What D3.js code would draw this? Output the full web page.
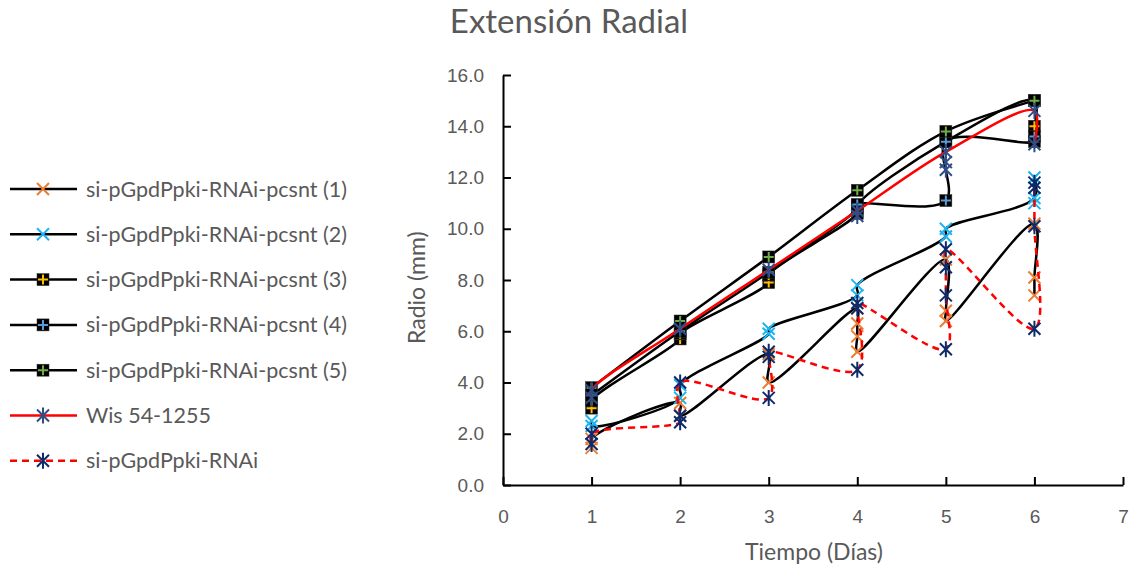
<!DOCTYPE html>
<html lang="es">
<head>
<meta charset="UTF-8">
<title>Extensión Radial</title>
<script src="https://d3js.org/d3.v7.min.js"></script>
<style>
  body { margin: 0; background: #fff; }
  svg { font-family: Lato, "Open Sans", sans-serif; }
  .tick text { fill: #595959; font-size: 19px; }
  .axis path, .axis line { stroke: #000; stroke-width: 2px; }
  .legend-label { fill: #595959; font-size: 21.5px; }
</style>
</head>
<body>
<div id="chart"></div>
<script>
// replicate readings per day, in the order the original series joins them
const pcsnt1 = [[1,1.45],[1,1.8],[2,3.2],[2,2.7],[3,5.1],[3,4.0],[4,6.9],[4,6.3],[4,5.8],[4,5.2],[5,8.8],[5,6.8],[5,6.4],[6,10.2],[6,8.1],[6,7.4]];
const pcsnt2 = [[1,2.5],[1,2.3],[2,3.4],[2,3.9],[3,5.9],[3,6.1],[4,7.4],[4,7.8],[5,9.7],[5,10.0],[6,11.2],[6,12.0],[6,11.0]];
const pcsnt3 = [[1,3.0],[1,3.3],[2,5.7],[2,5.9],[3,7.9],[3,8.2],[4,10.6],[4,10.9],[5,13.4],[6,15.0],[6,14.0]];
const pcsnt4 = [[1,3.5],[2,6.0],[3,8.3],[4,10.8],[4,10.95],[5,11.1],[5,13.4],[6,13.4],[6,13.6]];
const pcsnt5 = [[1,3.8],[2,6.4],[3,8.9],[4,11.5],[5,13.8],[6,15.0]];
const wis = [[1,3.4],[1,3.7],[2,6.1],[3,8.4],[4,10.7],[5,13.0],[6,14.6],[6,13.3]];
const wisOther = [[4,10.5],[5,12.3],[5,12.6]];
const rnai = [[1,1.6],[1,2.0],[2,2.45],[2,2.7],[2,4.0],[3,3.4],[3,5.0],[3,5.2],[4,4.5],[4,6.9],[4,7.1],[5,5.3],[5,7.4],[5,8.5],[5,9.2],[6,6.1],[6,10.1],[6,11.6],[6,11.8]];

const seriesNames = ["si-pGpdPpki-RNAi-pcsnt (1)", "si-pGpdPpki-RNAi-pcsnt (2)", "si-pGpdPpki-RNAi-pcsnt (3)",
  "si-pGpdPpki-RNAi-pcsnt (4)", "si-pGpdPpki-RNAi-pcsnt (5)", "Wis 54-1255", "si-pGpdPpki-RNAi"];
const seriesData = [pcsnt1, pcsnt2, pcsnt3, pcsnt4, pcsnt5, wis, rnai];
const extraPoints = [[], [], [], [], [], wisOther, []];
const lineColors = ["#000", "#000", "#000", "#000", "#000", "#ff0000", "#ff0000"];
const dashes = [null, null, null, null, null, null, "7,5"];
const markerTypes = ["x", "x", "plus", "plus", "plus", "star", "star"];
const markerColors = ["#ed7d31", "#1eb4f0", "#ffc000", "#5b9bd5", "#70ad47", "#2f4d86", "#0d2b6b"];

const xTicks = [0, 1, 2, 3, 4, 5, 6, 7];
const yTicks = [0, 2, 4, 6, 8, 10, 12, 14, 16];

const W = 1133, H = 571;
const svg = d3.select("#chart").append("svg").attr("width", W).attr("height", H);

const x = d3.scaleLinear().domain([0, 7]).range([503, 1123]);
const y = d3.scaleLinear().domain([0, 16]).range([485, 75]);

// title
svg.append("text").attr("x", 569).attr("y", 33).attr("text-anchor", "middle")
  .attr("fill", "#595959").style("font-size", "33px").text("Extensión Radial");

// axes
svg.append("g").attr("class", "axis").attr("transform", `translate(0,${y(0)})`)
  .call(d3.axisBottom(x).tickValues(xTicks).tickFormat(d3.format("d")).tickSizeInner(-8).tickSizeOuter(0).tickPadding(25));
svg.append("g").attr("class", "axis").attr("transform", `translate(${x(0)},0)`)
  .call(d3.axisLeft(y).tickValues(yTicks).tickFormat(d3.format(".1f")).tickSizeInner(-8).tickSizeOuter(0).tickPadding(19));
svg.selectAll(".axis .domain").attr("stroke-width", 2.5);

svg.append("text").attr("transform", `translate(425,${y(7.7)}) rotate(-90)`)
  .attr("text-anchor", "middle").attr("fill", "#595959").style("font-size", "23px").text("Radio (mm)");
svg.append("text").attr("x", 814).attr("y", 560)
  .attr("text-anchor", "middle").attr("fill", "#595959").style("font-size", "23px").text("Tiempo (Días)");

function drawMarker(g, type, color, cx, cy) {
  const m = g.append("g").attr("transform", `translate(${cx},${cy})`);
  if (type === "x") {
    const s = 6;
    m.append("path").attr("d", `M${-s},${-s}L${s},${s}M${-s},${s}L${s},${-s}`)
      .attr("stroke", color).attr("stroke-width", 2).attr("fill", "none");
  } else if (type === "plus") {
    m.append("rect").attr("x", -6).attr("y", -6).attr("width", 12).attr("height", 12)
      .attr("fill", "#000").attr("stroke", "#333").attr("stroke-width", 0.5);
    m.append("path").attr("d", "M-5,0L5,0M0,-5L0,5").attr("stroke", color).attr("stroke-width", 2);
  } else {
    const s = 6;
    m.append("path").attr("d", `M${-s},${-s}L${s},${s}M${-s},${s}L${s},${-s}M0,-8L0,8`)
      .attr("stroke", color).attr("stroke-width", 2).attr("fill", "none");
  }
}

const line = d3.line().x(d => x(d[0])).y(d => y(d[1])).curve(d3.curveCatmullRom.alpha(0.5));

seriesData.forEach((data, i) => {
  const g = svg.append("g");
  g.append("path").datum(data).attr("d", line).attr("fill", "none")
    .attr("stroke", lineColors[i]).attr("stroke-width", 2.5)
    .attr("stroke-dasharray", dashes[i]);
  data.concat(extraPoints[i]).forEach(d => drawMarker(g, markerTypes[i], markerColors[i], x(d[0]), y(d[1])));
});

// legend
const legend = svg.append("g");
seriesNames.forEach((name, i) => {
  const ly = 189 + i * 45.3;
  legend.append("line").attr("x1", 10).attr("x2", 77).attr("y1", ly).attr("y2", ly)
    .attr("stroke", lineColors[i]).attr("stroke-width", 2.5).attr("stroke-dasharray", dashes[i]);
  drawMarker(legend, markerTypes[i], markerColors[i], 43, ly);
  legend.append("text").attr("class", "legend-label").attr("x", 86).attr("y", ly + 7.5).text(name);
});
</script>
</body>
</html>
